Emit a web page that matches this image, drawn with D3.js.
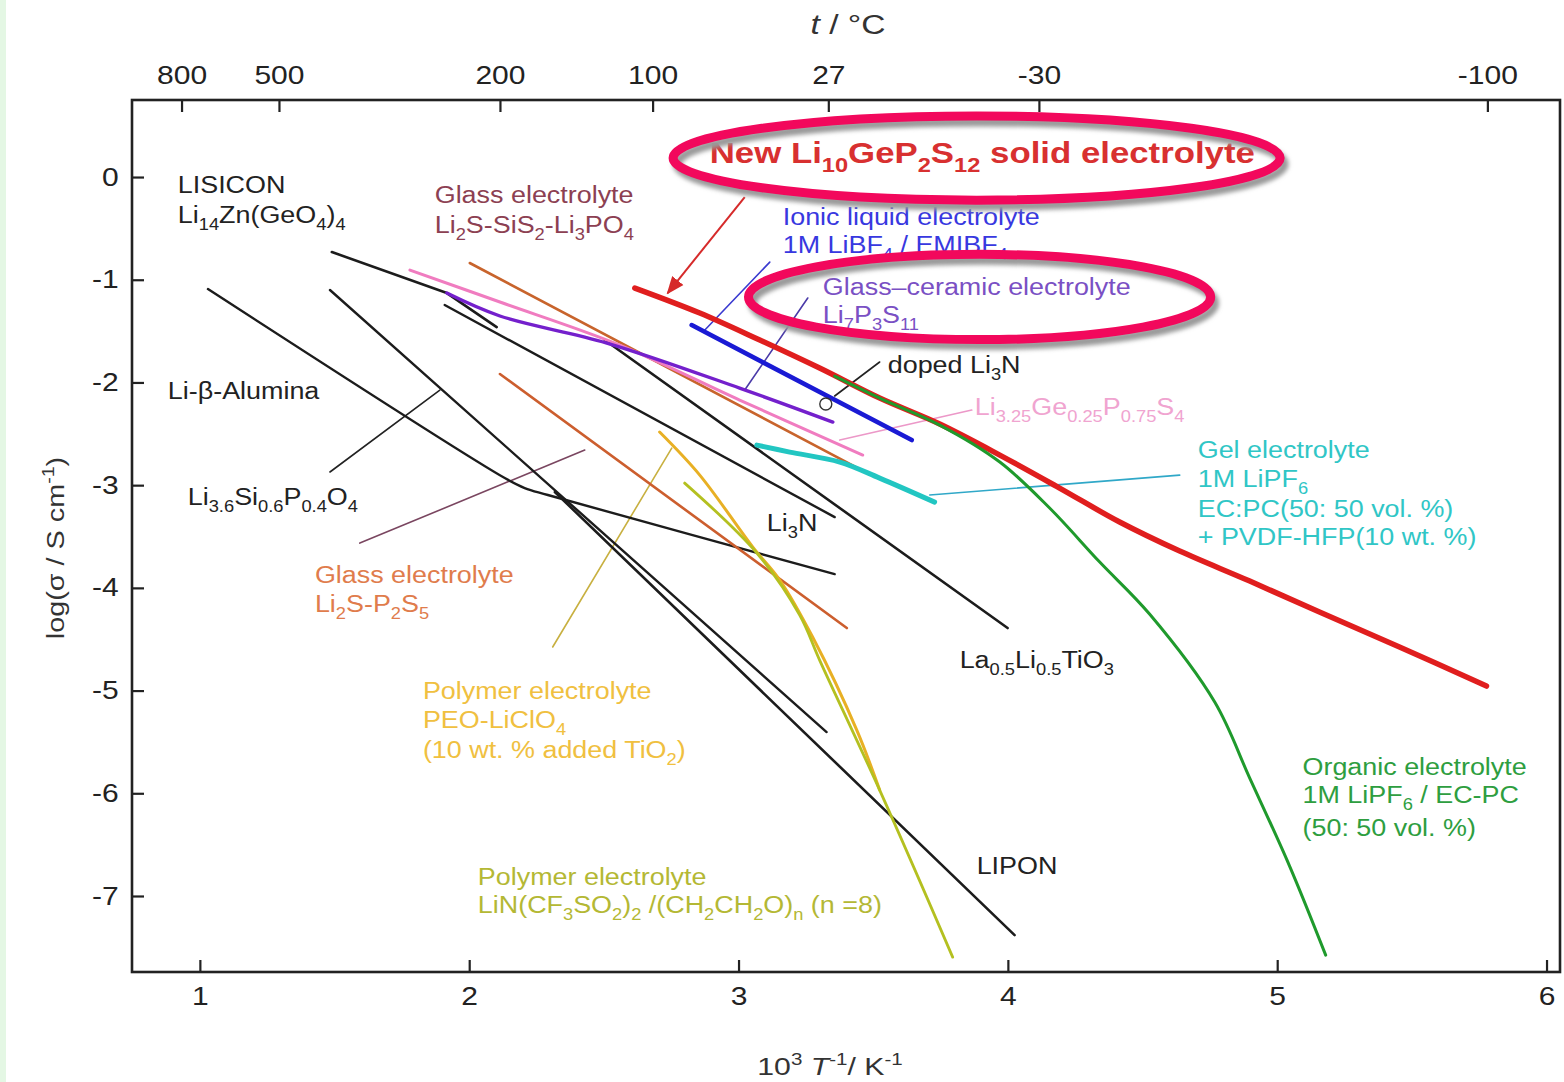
<!DOCTYPE html>
<html>
<head>
<meta charset="utf-8">
<script src="https://cdn.jsdelivr.net/npm/d3@7"></script>
<style>
  body { margin: 0; background: #fff; }
  svg text { font-family: "Liberation Sans", Arial, Helvetica, sans-serif; }
</style>
</head>
<body>
<svg id="chart" width="1564" height="1082"></svg>
<script>
// Axis ticks
const xTicks = [1, 2, 3, 4, 5, 6]
const yTicks = [0, -1, -2, -3, -4, -5, -6, -7]
const tempTicks = [800, 500, 200, 100, 27, -30, -100]   // deg C, placed at 1000/(t+273)

// Series: [1000/T (K^-1), log(sigma / S cm^-1)]
const liBetaAlumina = [[1.030, -1.091], [2.132, -2.931], [2.206, -3.028], [2.292, -3.096], [3.357, -3.866]]
const liSiPO = [[1.483, -1.100], [3.327, -5.404]]
const lipon = [[2.318, -3.067], [4.025, -7.381]]
const lisicon = [[1.490, -0.730], [1.917, -1.130], [2.102, -1.461]]
const li3n = [[1.909, -1.246], [3.357, -3.311]]
const llto = [[2.503, -1.587], [3.999, -4.391]]
const glassSiS2 = [[2.002, -0.837], [3.457, -2.853]]
const glassP2S5 = [[2.114, -1.918], [3.402, -4.391]]
const liGePS = [[1.780, -0.906], [2.114, -1.217], [2.559, -1.636], [3.004, -2.171], [3.461, -2.707]]
const li7p3s11 = [[1.917, -1.130], [2.114, -1.353], [2.511, -1.616], [3.004, -2.055], [3.350, -2.386]]
const ionicLiquid = [[2.826, -1.441], [3.643, -2.561]]
const gel = [[3.068, -2.610], [3.190, -2.678], [3.376, -2.775], [3.524, -2.931], [3.728, -3.165]]
const peo = [[2.707, -2.483], [2.856, -2.902], [3.053, -3.603], [3.153, -3.924], [3.275, -4.479], [3.439, -5.385], [3.524, -5.969]]
const polymerLiN = [[2.800, -2.980], [3.068, -3.661], [3.227, -4.265], [3.301, -4.703], [3.524, -5.969], [3.795, -7.595]]
const lgps = [[2.615, -1.081], [2.856, -1.324], [3.079, -1.587], [3.301, -1.860], [3.524, -2.152], [3.747, -2.405],
  [3.970, -2.707], [4.192, -3.028], [4.415, -3.359], [4.638, -3.642], [4.898, -3.934], [5.157, -4.236],
  [5.454, -4.576], [5.777, -4.956]]
const organic = [[3.357, -1.938], [3.524, -2.152], [3.747, -2.415], [3.970, -2.775], [4.155, -3.223], [4.341, -3.749],
  [4.526, -4.255], [4.768, -5.112], [4.898, -5.852], [5.046, -6.709], [5.180, -7.576]]

const series = [
  { d: liBetaAlumina, c: '#1c1c1c', w: 2.4, smooth: true },
  { d: liSiPO, c: '#1c1c1c', w: 2.4 },
  { d: lipon, c: '#1c1c1c', w: 2.6 },
  { d: lisicon, c: '#1c1c1c', w: 2.6 },
  { d: li3n, c: '#1c1c1c', w: 2.4 },
  { d: llto, c: '#1c1c1c', w: 2.6 },
  { d: glassSiS2, c: '#c8642c', w: 2.6 },
  { d: glassP2S5, c: '#cc5e2e', w: 2.6 },
  { d: liGePS, c: '#f07cc0', w: 3, smooth: true },
  { d: li7p3s11, c: '#7420cc', w: 3.4, smooth: true },
  { d: peo, c: '#e8b024', w: 3, smooth: true },
  { d: polymerLiN, c: '#b4c020', w: 2.8, smooth: true },
  { d: ionicLiquid, c: '#1a1ad4', w: 4.6 },
  { d: gel, c: '#22c6c2', w: 5, smooth: true },
  { d: lgps, c: '#e01e1e', w: 5.5, smooth: true },
  { d: organic, c: '#1f9a2c', w: 3, smooth: true },
]

// Leader lines [from, to] in data units
const leaders = [
  { d: [[1.483, -2.872], [1.891, -2.074]], c: '#222' },
  { d: [[1.594, -3.564], [2.429, -2.658]], c: '#7a4660' },
  { d: [[2.310, -4.576], [2.752, -2.639]], c: '#c8b040' },
  { d: [[3.023, -2.074], [3.257, -1.178]], c: '#4a3aa8' },
  { d: [[2.875, -1.490], [3.116, -0.828]], c: '#3a3ad0' },
  { d: [[3.524, -1.801], [3.357, -2.132]], c: '#222' },
  { d: [[3.376, -2.561], [3.866, -2.269]], c: '#ec98c8' },
  { d: [[3.710, -3.096], [4.638, -2.902]], c: '#30a8c8' },
]
const arrow = [[3.023, -0.195], [2.737, -1.130]]
const dopedMark = [3.324, -2.210]

// Labels: text (with _{sub} ^{sup} *italic* markup), position in data units
const labels = [
  { t: 'LISICON', x: 0.918, y: -0.156, c: '#222' },
  { t: 'Li_{14}Zn(GeO_{4})_{4}', x: 0.918, y: -0.448, c: '#222' },
  { t: 'Glass electrolyte', x: 1.872, y: -0.253, c: '#8c4052' },
  { t: 'Li_{2}S-SiS_{2}-Li_{3}PO_{4}', x: 1.872, y: -0.545, c: '#8c4052' },
  { t: 'Li-β-Alumina', x: 0.881, y: -2.162, c: '#222' },
  { t: 'Li_{3.6}Si_{0.6}P_{0.4}O_{4}', x: 0.955, y: -3.194, c: '#222' },
  { t: 'Glass electrolyte', x: 1.427, y: -3.953, c: '#e07c4c' },
  { t: 'Li_{2}S-P_{2}S_{5}', x: 1.427, y: -4.236, c: '#e07c4c' },
  { t: 'Polymer electrolyte', x: 1.828, y: -5.083, c: '#f0c040' },
  { t: 'PEO-LiClO_{4}', x: 1.828, y: -5.365, c: '#f0c040' },
  { t: '(10 wt. % added TiO_{2})', x: 1.828, y: -5.657, c: '#f0c040' },
  { t: 'Polymer electrolyte', x: 2.032, y: -6.894, c: '#b4b834' },
  { t: 'LiN(CF_{3}SO_{2})_{2} /(CH_{2}CH_{2}O)_{n} (n =8)', x: 2.032, y: -7.167, c: '#b4b834' },
  { t: 'LIPON', x: 3.884, y: -6.787, c: '#222' },
  { t: 'La_{0.5}Li_{0.5}TiO_{3}', x: 3.821, y: -4.781, c: '#222' },
  { t: 'Li_{3}N', x: 3.105, y: -3.447, c: '#222' },
  { t: 'doped Li_{3}N', x: 3.554, y: -1.908, c: '#222' },
  { t: 'Li_{3.25}Ge_{0.25}P_{0.75}S_{4}', x: 3.877, y: -2.317, c: '#f0a4d0' },
  { t: 'Gel electrolyte', x: 4.705, y: -2.736, c: '#30c6c6' },
  { t: '1M LiPF_{6}', x: 4.705, y: -3.018, c: '#30c6c6' },
  { t: 'EC:PC(50: 50 vol. %)', x: 4.705, y: -3.311, c: '#30c6c6' },
  { t: '+ PVDF-HFP(10 wt. %)', x: 4.705, y: -3.583, c: '#30c6c6' },
  { t: 'Organic electrolyte', x: 5.094, y: -5.823, c: '#2e9e40' },
  { t: '1M LiPF_{6} / EC-PC', x: 5.094, y: -6.095, c: '#2e9e40' },
  { t: '(50: 50 vol. %)', x: 5.094, y: -6.417, c: '#2e9e40' },
  { t: 'Ionic liquid electrolyte', x: 3.164, y: -0.467, c: '#3838e0' },
  { t: '1M LiBF_{4} / EMIBF_{4}', x: 3.164, y: -0.740, c: '#3838e0' },
  { t: 'Glass–ceramic electrolyte', x: 3.313, y: -1.149, c: '#7a50c4' },
  { t: 'Li_{7}P_{3}S_{11}', x: 3.313, y: -1.422, c: '#7a50c4' },
]
const headline = { t: 'New Li_{10}GeP_{2}S_{12} solid electrolyte', x: 2.893, y: 0.136 }

// Highlight ellipses: centre and radii in data units
const rings = [
  { cx: 3.884, cy: 0.185, rx: 1.127, ry: 0.41 },
  { cx: 3.895, cy: -1.168, rx: 0.858, ry: 0.415 },
]

const svg = d3.select('#chart')
const W = 1564, H = 1082
const plot = { left: 132, right: 1560, top: 100, bottom: 972 }
const stretch = 1.17   // the source figure's lettering is wide

const x = d3.scaleLinear().domain([0.748, 6.05]).range([plot.left, plot.right])
const y = d3.scaleLinear().domain([0.75, -7.74]).range([plot.top, plot.bottom])

svg.append('rect').attr('width', W).attr('height', H).attr('fill', '#fff')
svg.append('rect').attr('width', 6).attr('height', H).attr('fill', '#e4f7e4')

function rich(sel, str, fs) {
  const parts = str.split(/(_\{[^}]*\}|\^\{[^}]*\}|\*[^*]+\*)/).filter(s => s.length)
  let shift = 0
  parts.forEach(p => {
    const t = sel.append('tspan')
    let target = 0
    if (p.startsWith('_{')) { t.text(p.slice(2, -1)).attr('font-size', fs * 0.68); target = fs * 0.3 }
    else if (p.startsWith('^{')) { t.text(p.slice(2, -1)).attr('font-size', fs * 0.68); target = -fs * 0.42 }
    else if (p.startsWith('*')) { t.text(p.slice(1, -1)).attr('font-style', 'italic') }
    else t.text(p)
    if (target - shift !== 0) t.attr('dy', target - shift)
    shift = target
  })
}

// Axes
const tickFmt = d => String(d)
const styleAxis = g => {
  g.select('.domain').remove()
  g.selectAll('.tick line').attr('stroke', '#222').attr('stroke-width', 2.2)
  g.selectAll('.tick text').attr('fill', '#222').attr('font-size', 25)
    .attr('font-family', '"Liberation Sans", Arial, sans-serif')
    .attr('transform', 'scale(1.2,1)')
}

svg.append('g').attr('transform', `translate(0,${plot.bottom})`)
  .call(d3.axisBottom(x).tickValues(xTicks).tickFormat(tickFmt).tickSize(-12).tickPadding(15))
  .call(styleAxis)

svg.append('g').attr('transform', `translate(${plot.left},0)`)
  .call(d3.axisLeft(y).tickValues(yTicks).tickFormat(tickFmt).tickSize(-12).tickPadding(11))
  .call(styleAxis)

svg.append('g').attr('transform', `translate(0,${plot.top})`)
  .call(d3.axisTop(x).tickValues(tempTicks.map(t => 1000 / (t + 273)))
    .tickFormat((d, i) => String(tempTicks[i])).tickSize(-12).tickPadding(16))
  .call(styleAxis)

svg.append('rect')
  .attr('x', plot.left).attr('y', plot.top)
  .attr('width', plot.right - plot.left).attr('height', plot.bottom - plot.top)
  .attr('fill', 'none').attr('stroke', '#222').attr('stroke-width', 2.6)

// Axis titles
rich(svg.append('text').attr('transform', 'translate(848,34) scale(1.2,1)').attr('text-anchor', 'middle')
  .attr('font-size', 28).attr('fill', '#333'), '*t* / °C', 28)
rich(svg.append('text').attr('transform', 'translate(830,1075) scale(1.26,1)').attr('text-anchor', 'middle')
  .attr('font-size', 24).attr('fill', '#333'), '10^{3} *T*^{-1}/ K^{-1}', 24)
rich(svg.append('text').attr('transform', 'translate(64,548) rotate(-90) scale(1.2,1)').attr('text-anchor', 'middle')
  .attr('font-size', 24).attr('fill', '#333'), 'log(σ / S cm^{-1})', 24)

// Curves
const straight = d3.line().x(d => x(d[0])).y(d => y(d[1]))
const smooth = d3.line().x(d => x(d[0])).y(d => y(d[1])).curve(d3.curveCatmullRom.alpha(0.5))
const lines = svg.append('g').attr('fill', 'none').attr('stroke-linecap', 'round').attr('stroke-linejoin', 'round')

lines.selectAll('path.leader')
  .data(leaders)
  .join('path')
    .attr('class', 'leader')
    .attr('d', l => straight(l.d))
    .attr('stroke', l => l.c)
    .attr('stroke-width', 1.6)

lines.selectAll('path.series')
  .data(series)
  .join('path')
    .attr('class', 'series')
    .attr('d', s => (s.smooth ? smooth : straight)(s.d))
    .attr('stroke', s => s.c)
    .attr('stroke-width', s => s.w)

// doped Li3N marker
svg.append('circle')
  .attr('cx', x(dopedMark[0])).attr('cy', y(dopedMark[1])).attr('r', 6)
  .attr('fill', 'none').attr('stroke', '#333').attr('stroke-width', 1.4)

// Red arrow onto LGPS
const defs = svg.append('defs')
defs.append('marker')
  .attr('id', 'arrowhead').attr('viewBox', '0 0 10 10').attr('refX', 9).attr('refY', 5)
  .attr('markerWidth', 9).attr('markerHeight', 9).attr('orient', 'auto-start-reverse')
  .append('path').attr('d', 'M0,1 L10,5 L0,9 z').attr('fill', '#d62a2a')
svg.append('path')
  .attr('d', straight(arrow))
  .attr('stroke', '#d62a2a').attr('stroke-width', 2).attr('fill', 'none')
  .attr('marker-end', 'url(#arrowhead)')

// Labels
const labelG = svg.append('g')
labels.forEach(l => {
  rich(labelG.append('text')
    .attr('transform', `translate(${x(l.x)},${y(l.y)}) scale(${stretch},1)`)
    .attr('font-size', 23).attr('fill', l.c), l.t, 23)
})
rich(labelG.append('text')
  .attr('transform', `translate(${x(headline.x)},${y(headline.y)}) scale(1.16,1)`)
  .attr('font-size', 30).attr('font-weight', 'bold').attr('fill', '#d83030'), headline.t, 30)

// Highlight rings with soft shadow
defs.append('filter').attr('id', 'soft').append('feGaussianBlur').attr('stdDeviation', 2)
const ringG = svg.append('g').attr('fill', 'none')
ringG.selectAll('ellipse.shadow')
  .data(rings)
  .join('ellipse')
    .attr('class', 'shadow')
    .attr('cx', r => x(r.cx) + 4).attr('cy', r => y(r.cy) + 6)
    .attr('rx', r => x(r.cx + r.rx) - x(r.cx)).attr('ry', r => y(r.cy - r.ry) - y(r.cy))
    .attr('stroke', '#9a9a9a').attr('stroke-width', 9).attr('filter', 'url(#soft)')
ringG.selectAll('ellipse.ring')
  .data(rings)
  .join('ellipse')
    .attr('class', 'ring')
    .attr('cx', r => x(r.cx)).attr('cy', r => y(r.cy))
    .attr('rx', r => x(r.cx + r.rx) - x(r.cx)).attr('ry', r => y(r.cy - r.ry) - y(r.cy))
    .attr('stroke', '#f2085c').attr('stroke-width', 9)
</script>
</body>
</html>
